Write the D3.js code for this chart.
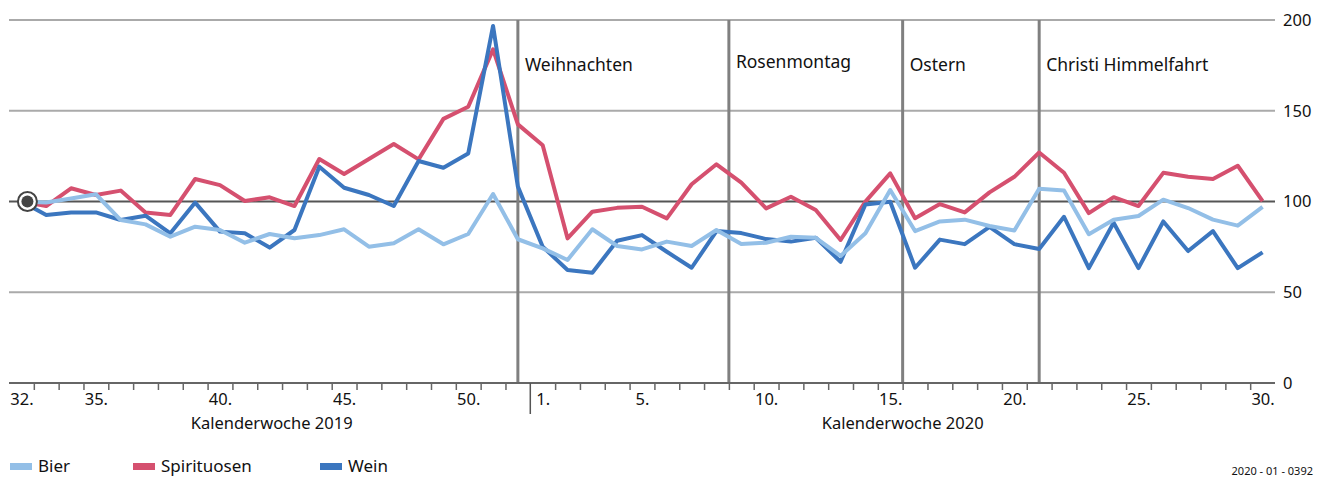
<!DOCTYPE html>
<html>
<head>
<meta charset="utf-8">
<script src="https://cdn.jsdelivr.net/npm/d3@7"></script>
<style>
  body { margin: 0; background: #fff; }
  svg text { font-family: "Noto Sans", sans-serif; fill: #111; }
</style>
</head>
<body>
<div class="chart"></div>
<script>
var svgWidth = 1317;
var svgHeight = 477;

// week labels: KW 32/2019 ... KW 52/2019, KW 1/2020 ... KW 30/2020
var weeks2019 = d3.range(32, 53);
var weeks2020 = d3.range(1, 31);
var weeks = weeks2019.concat(weeks2020);

// index values, KW 32/2019 = 100
var bier = [100, 99.4, 101.7, 104, 89.8, 87.4, 80.6, 86.1, 84.3, 77.3,
  82.1, 79.7, 81.5, 84.7, 75.1, 77, 84.7, 76.4, 82.1, 104.1,
  79.2, 74.2, 67.8, 84.7, 75.5, 73.6, 77.9, 75.5, 84.3, 76.6,
  77.3, 80.6, 80, 70, 82.5, 106.3, 83.7, 89, 90, 86.5,
  84, 107, 106, 82, 90, 92, 101, 96.4, 90, 86.7, 97];

var spirituosen = [100, 97.5, 107.3, 103.6, 106, 94, 92.6, 112.4, 109, 100.3,
  102.3, 97.5, 123.4, 115.2, 123.4, 131.7, 123.2, 145.5, 152.2, 183.8,
  142.5, 131, 79.7, 94.4, 96.5, 97.1, 90.7, 109.5, 120.5, 110.4,
  96.2, 102.6, 95.3, 78.8, 99.9, 115.5, 90.8, 98.6, 94, 105,
  113.6, 127, 115.8, 93.6, 102.4, 97.5, 115.8, 113.6, 112.4, 119.7, 100.2];

var wein = [100, 92.6, 94, 94, 89.8, 92.2, 82.5, 99.4, 83.4, 82.5,
  74.6, 84.3, 119.2, 107.6, 103.6, 97.5, 122.3, 118.6, 126.5, 196.7,
  108.2, 75.1, 62.3, 60.8, 78.4, 81.5, 72.3, 63.5, 83.7, 82.6,
  79.3, 77.9, 80, 66.8, 98.4, 99.9, 63.5, 79, 76.5, 86,
  76.5, 73.8, 91.6, 63.3, 88.3, 63.3, 89, 72.7, 83.7, 63.3, 72];

// labelled weeks on the x axis
var labelWeeks = [32, 35, 40, 45, 50, 1, 5, 10, 15, 20, 25, 30];

// holidays: name and position in week index (fractions = day in week)
var eventNames = ["Weihnachten", "Rosenmontag", "Ostern", "Christi Himmelfahrt"];
var eventIndex = [20, 28.5, 35.5, 41];

var yTicks = [0, 50, 100, 150, 200];

var series = [
  { name: "Spirituosen", values: spirituosen, color: "#d5506f" },
  { name: "Wein", values: wein, color: "#3b76bf" },
  { name: "Bier", values: bier, color: "#93bfe7" }
];
var legendOrder = ["Bier", "Spirituosen", "Wein"];

var plotLeft = 9;
var plotRight = 1275;
var plotTop = 20;
var plotBottom = 383;

var svg = d3.select(".chart")
  .append("svg")
  .attr("width", svgWidth)
  .attr("height", svgHeight);

// x: week index, every week takes one slot, points in the middle
var xScale = d3.scaleLinear()
  .domain([-0.5, weeks.length - 0.5])
  .range([plotLeft, plotRight]);

var yScale = d3.scaleLinear()
  .domain([0, 200])
  .range([plotBottom, plotTop]);

// horizontal grid
svg.append("g")
  .selectAll("line")
  .data(yTicks.filter(function(d) { return d > 0; }))
  .enter()
  .append("line")
  .attr("x1", plotLeft)
  .attr("x2", plotRight)
  .attr("y1", function(d) { return yScale(d); })
  .attr("y2", function(d) { return yScale(d); })
  .attr("stroke", function(d) { return d === 100 ? "#555" : "#aaa"; })
  .attr("stroke-width", 2);

// holiday lines
svg.append("g")
  .selectAll("line")
  .data(eventIndex)
  .enter()
  .append("line")
  .attr("x1", function(d) { return xScale(d); })
  .attr("x2", function(d) { return xScale(d); })
  .attr("y1", plotTop)
  .attr("y2", plotBottom)
  .attr("stroke", "#808080")
  .attr("stroke-width", 3);

svg.append("g")
  .selectAll("text")
  .data(eventNames)
  .enter()
  .append("text")
  .attr("x", function(d, i) { return xScale(eventIndex[i]) + 7; })
  .attr("y", function(d, i) { return i === 1 ? 68 : 71; })
  .attr("font-size", "17.5px")
  .text(function(d) { return d; });

// y axis on the right, labels only
var rightAxis = d3.axisRight(yScale)
  .tickValues(yTicks)
  .tickSize(0)
  .tickPadding(8);

var yAxisG = svg.append("g")
  .attr("transform", "translate(" + plotRight + ",0)")
  .call(rightAxis);
yAxisG.select(".domain").remove();
yAxisG.selectAll("text")
  .attr("font-size", "16.5px")
  .attr("fill", "#111");

// x axis: small ticks between weeks
var tickAxis = d3.axisBottom(xScale)
  .tickValues(d3.range(0.5, weeks.length - 1, 1).filter(function(d) { return d !== 20.5; }))
  .tickSize(7)
  .tickFormat("");

var tickG = svg.append("g")
  .attr("transform", "translate(0," + plotBottom + ")")
  .call(tickAxis);
tickG.select(".domain").remove();
tickG.selectAll("line").attr("stroke", "#666").attr("stroke-width", 1.5);

// week labels
var labelAxis = d3.axisBottom(xScale)
  .tickValues(labelWeeks.map(function(w) { return weeks.indexOf(w); }))
  .tickSize(0)
  .tickPadding(10)
  .tickFormat(function(i) { return weeks[i] + "."; });

var labelG = svg.append("g")
  .attr("transform", "translate(0," + plotBottom + ")")
  .call(labelAxis);
labelG.select(".domain").remove();
labelG.selectAll("text")
  .attr("font-size", "16.5px")
  .attr("fill", "#111");

// axis line
svg.append("line")
  .attr("x1", plotLeft)
  .attr("x2", plotRight)
  .attr("y1", plotBottom)
  .attr("y2", plotBottom)
  .attr("stroke", "#666")
  .attr("stroke-width", 2);

// year divider below the axis
svg.append("line")
  .attr("x1", xScale(weeks2019.length - 0.5))
  .attr("x2", xScale(weeks2019.length - 0.5))
  .attr("y1", plotBottom)
  .attr("y2", plotBottom + 31)
  .attr("stroke", "#555")
  .attr("stroke-width", 1.5);

// year titles
svg.append("text")
  .attr("x", xScale((weeks2019.length - 1) / 2) + 2)
  .attr("y", 429)
  .attr("text-anchor", "middle")
  .attr("font-size", "16.5px")
  .text("Kalenderwoche 2019");

svg.append("text")
  .attr("x", xScale(weeks2019.length + (weeks2020.length - 1) / 2))
  .attr("y", 429)
  .attr("text-anchor", "middle")
  .attr("font-size", "16.5px")
  .text("Kalenderwoche 2020");

// lines
var line = d3.line()
  .x(function(d, i) { return xScale(i); })
  .y(function(d) { return yScale(d); });

svg.append("g")
  .selectAll("path")
  .data(series)
  .enter()
  .append("path")
  .attr("d", function(s) { return line(s.values); })
  .attr("fill", "none")
  .attr("stroke", function(s) { return s.color; })
  .attr("stroke-width", 4)
  .attr("stroke-linejoin", "round");

// start marker (base = 100)
svg.append("circle")
  .attr("cx", xScale(0) + 6)
  .attr("cy", yScale(bier[0]))
  .attr("r", 9.5)
  .attr("fill", "#fff")
  .attr("stroke", "#444")
  .attr("stroke-width", 2);
svg.append("circle")
  .attr("cx", xScale(0) + 6)
  .attr("cy", yScale(bier[0]))
  .attr("r", 6)
  .attr("fill", "#444");

// legend
var legendX = [10, 133, 320];
var legend = svg.append("g")
  .selectAll("g")
  .data(legendOrder)
  .enter()
  .append("g")
  .attr("transform", function(d, i) { return "translate(" + legendX[i] + ",463)"; });

legend.append("rect")
  .attr("width", 22)
  .attr("height", 7)
  .attr("fill", function(d) {
    return series.filter(function(s) { return s.name === d; })[0].color;
  });

legend.append("text")
  .attr("x", 28)
  .attr("y", 9)
  .attr("font-size", "17px")
  .text(function(d) { return d; });

// source number
svg.append("text")
  .attr("x", 1313)
  .attr("y", 475)
  .attr("text-anchor", "end")
  .attr("font-size", "11px")
  .attr("fill", "#333")
  .text("2020 - 01 - 0392");
</script>
</body>
</html>
